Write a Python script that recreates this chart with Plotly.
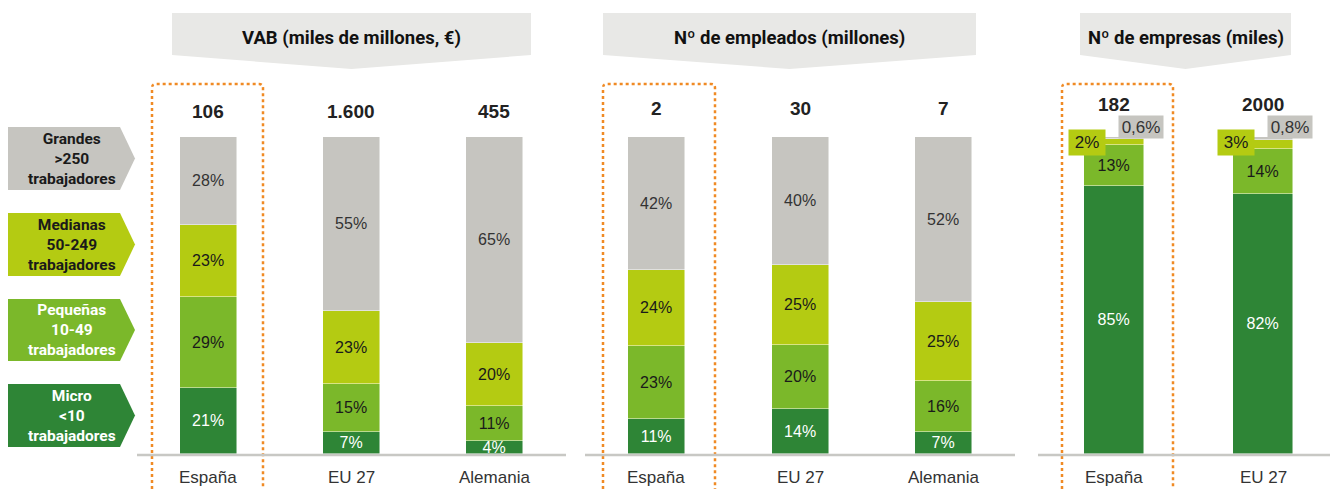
import plotly.graph_objects as go

# ---------------- data ----------------
countries = ["España", "EU 27", "Alemania", "España", "EU 27", "Alemania", "España", "EU 27"]
bar_x = [208, 351, 494, 656, 800, 943, 1114, 1263]          # bar centres (layout)
bar_w = [57, 57, 57, 57, 57, 57, 60, 60]

micro = [21, 7, 4, 11, 14, 7, 85, 82]
pequenas = [29, 15, 11, 23, 20, 16, 13, 14]
medianas = [23, 23, 20, 24, 25, 25, 2, 3]
grandes = [28, 55, 65, 42, 40, 52, 0.6, 0.8]
totals = ["106", "1.600", "455", "2", "30", "7", "182", "2000"]

panel_titles = ["VAB (miles de millones, €)", "Nº de empleados (millones)", "Nº de empresas (miles)"]
legend_labels = ["Grandes<br>>250<br>trabajadores", "Medianas<br>50-249<br>trabajadores",
                 "Pequeñas<br>10-49<br>trabajadores", "Micro<br><10<br>trabajadores"]

# ---------------- style ----------------
C_GRAY = "#C6C5C0"
C_MED = "#B4CB12"
C_PEQ = "#7BB82A"
C_MIC = "#2E8536"
C_HEAD = "#E8E8E6"
C_ORANGE = "#F08A24"
C_BASE = "#C8C8C4"

PAGE_W, PAGE_H = 1338, 489
OFF = 8                      # page body margin
W, H = PAGE_W - OFF, PAGE_H - OFF
BASE_PX = 454
PX_PER_UNIT = 3.17


def pct(v):
    return f"{v}".replace(".", ",") + "%"


def seg_text(vals, hide_small=False):
    return ["" if (hide_small and i >= 6) else pct(v) for i, v in enumerate(vals)]


# each column is drawn as a 100% stacked bar
sums = [a + b + c + d for a, b, c, d in zip(micro, pequenas, medianas, grandes)]


def norm(vals):
    return [v / s * 100 for v, s in zip(vals, sums)]


fig = go.Figure()
series = [
    ("Micro", micro, C_MIC, "white", False),
    ("Pequeñas", pequenas, C_PEQ, "#1a1a1a", False),
    ("Medianas", medianas, C_MED, "#1a1a1a", True),
    ("Grandes", grandes, C_GRAY, "#333333", True),
]
for name, vals, col, tcol, hide in series:
    fig.add_trace(go.Bar(
        x=bar_x, y=norm(vals), width=bar_w, name=name,
        marker=dict(color=col, line=dict(color="rgba(255,255,255,0.6)", width=0.8)),
        text=seg_text(vals, hide), textposition="inside", insidetextanchor="middle",
        textangle=0, constraintext="none",
        textfont=dict(family="Liberation Sans, Arial", size=16, color=tcol),
        hoverinfo="skip", showlegend=False,
    ))

# invisible overlay axis in page-pixel units for decoration
fig.add_trace(go.Scatter(x=[OFF], y=[OFF], yaxis="y2", mode="markers",
                         marker=dict(opacity=0), showlegend=False, hoverinfo="skip"))

shapes = []
annotations = []

# headers
headers = [(172, 531), (603, 976), (1080, 1291)]
for (x0, x1), title in zip(headers, panel_titles):
    xm = (x0 + x1) / 2
    shapes.append(dict(type="path", xref="x", yref="y2",
                       path=f"M{x0},13 L{x1},13 L{x1},55 L{xm},69 L{x0},55 Z",
                       fillcolor=C_HEAD, line=dict(width=0), layer="below"))
    annotations.append(dict(x=xm, y=38, xref="x", yref="y2", text=f"<b>{title}</b>",
                            showarrow=False, font=dict(family="Roboto", size=18.5, color="#111111")))

# orange dotted frames (Spain)
for x0, x1 in [(152, 263), (603, 715), (1062, 1173)]:
    shapes.append(dict(type="path", xref="x", yref="y2",
                       path=f"M{x0},495 L{x0},88 Q{x0},84 {x0+4},84 L{x1-4},84 Q{x1},84 {x1},88 L{x1},495",
                       line=dict(color=C_ORANGE, width=2.5, dash="dot"), layer="above"))

# baselines
for x0, x1 in [(137, 566), (585, 1015), (1038, 1340)]:
    shapes.append(dict(type="line", xref="x", yref="y2", x0=x0, x1=x1, y0=BASE_PX + 1, y1=BASE_PX + 1,
                       line=dict(color=C_BASE, width=2.5), layer="above"))

# left legend arrows
leg_cols = [C_GRAY, C_MED, C_PEQ, C_MIC]
leg_tcols = ["#1a1a1a", "#1a1a1a", "white", "white"]
leg_y = [(127, 190), (213, 276), (299, 361), (384, 447)]
for (y0, y1), col, tcol, lab in zip(leg_y, leg_cols, leg_tcols, legend_labels):
    ym = (y0 + y1) / 2
    shapes.append(dict(type="path", xref="x", yref="y2",
                       path=f"M7,{y0} L120,{y0} L135,{ym} L120,{y1} L7,{y1} Z",
                       fillcolor=col, line=dict(width=0), layer="below"))
    annotations.append(dict(x=72, y=ym, xref="x", yref="y2", text=f"<b>{lab}</b>",
                            showarrow=False, align="center",
                            font=dict(family="Roboto", size=15.5, color=tcol)))

# totals and category labels
for i, (xc, tot, cat) in enumerate(zip(bar_x, totals, countries)):
    ty = 111 if i < 3 else (108 if i < 6 else 104)
    annotations.append(dict(x=xc, y=ty, xref="x", yref="y2", text=f"<b>{tot}</b>",
                            showarrow=False, font=dict(family="Liberation Sans, Arial", size=19, color="#222222")))
    annotations.append(dict(x=xc, y=477, xref="x", yref="y2", text=cat, showarrow=False,
                            font=dict(family="Liberation Sans, Arial", size=17, color="#333333")))

# small-segment callouts for the companies panel
for i in (6, 7):
    xc = bar_x[i]
    annotations.append(dict(x=xc - 27, y=142.5, xref="x", yref="y2", text=pct(medianas[i]),
                            showarrow=False, bgcolor=C_MED, width=36, height=25, borderpad=0,
                            font=dict(family="Liberation Sans, Arial", size=17, color="#1a1a1a")))
    annotations.append(dict(x=xc + 27, y=127, xref="x", yref="y2", text=pct(grandes[i]),
                            showarrow=False, bgcolor=C_GRAY, width=44, height=22, borderpad=0,
                            font=dict(family="Liberation Sans, Arial", size=17, color="#333333")))

fig.update_layout(
    width=W, height=H, margin=dict(l=0, r=0, t=0, b=0),
    paper_bgcolor="white", plot_bgcolor="white",
    barmode="stack", bargap=0,
    uniformtext=dict(minsize=16, mode="show"),
    xaxis=dict(range=[OFF, PAGE_W], visible=False, fixedrange=True),
    yaxis=dict(range=[(BASE_PX - PAGE_H) / PX_PER_UNIT, (BASE_PX - OFF) / PX_PER_UNIT], visible=False),
    yaxis2=dict(range=[PAGE_H, OFF], overlaying="y", visible=False),
    shapes=shapes, annotations=annotations,
)

fig.write_html("out.html")
